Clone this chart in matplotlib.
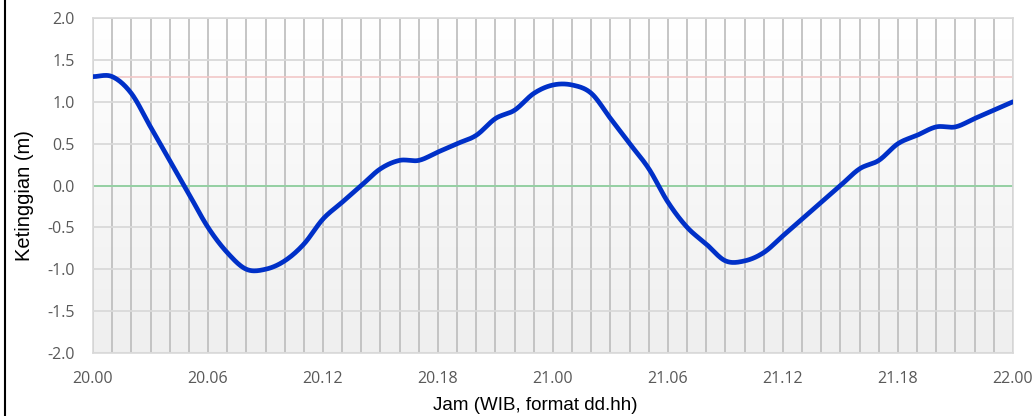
import numpy as np
import matplotlib
matplotlib.use("Agg")
import matplotlib.pyplot as plt
from matplotlib.lines import Line2D

# hourly water level from 20.00 to 22.00 (49 points)
hours = list(range(49))
levels = [1.3, 1.3, 1.1, 0.7, 0.3, -0.1, -0.5, -0.8, -1.0, -1.0, -0.9, -0.7,
          -0.4, -0.2, 0.0, 0.2, 0.3, 0.3, 0.4, 0.5, 0.6, 0.8, 0.9, 1.1,
          1.2, 1.2, 1.1, 0.8, 0.5, 0.2, -0.2, -0.5, -0.7, -0.9, -0.9, -0.8,
          -0.6, -0.4, -0.2, 0.0, 0.2, 0.3, 0.5, 0.6, 0.7, 0.7, 0.8, 0.9, 1.0]
tick_pos = [0, 6, 12, 18, 24, 30, 36, 42, 48]
tick_labels = ["20.00", "20.06", "20.12", "20.18", "21.00", "21.06", "21.12", "21.18", "22.00"]
upper_ref = 1.3
lower_ref = 0.0

def catmull_rom(x, y, n=20):
    x = np.asarray(x, float); y = np.asarray(y, float)
    px = np.concatenate([[2*x[0]-x[1]], x, [2*x[-1]-x[-2]]])
    py = np.concatenate([[2*y[0]-y[1]], y, [2*y[-1]-y[-2]]])
    xs, ys = [], []
    t = np.linspace(0, 1, n, endpoint=False)
    for i in range(1, len(px)-2):
        for arr, out in ((px, xs), (py, ys)):
            p0, p1, p2, p3 = arr[i-1], arr[i], arr[i+1], arr[i+2]
            out.append(0.5*((2*p1) + (-p0+p2)*t + (2*p0-5*p1+4*p2-p3)*t**2 + (-p0+3*p1-3*p2+p3)*t**3))
    xs.append([x[-1]]); ys.append([y[-1]])
    return np.concatenate(xs), np.concatenate(ys)

W, H = 1034, 416
fig = plt.figure(figsize=(W/100, H/100), dpi=100)
ax = fig.add_axes([93/W, 1-353/H, 920/W, 335/H])

# gradient background
grad = np.linspace(0, 1, 256).reshape(-1, 1)
top = np.array([1.0, 1.0, 1.0]); bot = np.array([0.937, 0.937, 0.937])
img = top + (bot - top) * grad[..., None]
ax.imshow(img, extent=[0, 48, -2, 2], aspect='auto', zorder=0, origin='upper')

ax.set_xlim(0, 48)
ax.set_ylim(-2, 2)
for h in hours:
    ax.axvline(h, color='#c0c0c0', lw=1.3, zorder=1)
for v in np.arange(-2, 2.01, 0.5):
    ax.axhline(v, color='#d9d9d9', lw=1.3, zorder=1)
ax.axhline(upper_ref, color='#f2c8c8', lw=1.2, zorder=2)
ax.axhline(lower_ref, color='#8fcf9f', lw=1.3, zorder=2)

sx, sy = catmull_rom(hours, levels)
ax.plot(sx, sy, color='#0030c8', lw=3.4, zorder=3, solid_capstyle='round')

ax.set_xticks(tick_pos)
ax.set_xticklabels(tick_labels)
ax.set_yticks(np.arange(-2, 2.01, 0.5))
ax.set_yticklabels([f"{v:.1f}" for v in np.arange(-2, 2.01, 0.5)])
ax.tick_params(axis='x', length=0, colors='#595959', labelsize=11.5, pad=13)
ax.tick_params(axis='y', length=0, colors='#595959', labelsize=11.5, pad=13)
for lab in ax.get_xticklabels() + ax.get_yticklabels():
    lab.set_family('Open Sans')
for s in ax.spines.values():
    s.set_color('#d9d9d9')
    s.set_linewidth(1.2)

fig.text(535/W, 1-406/H, "Jam (WIB, format dd.hh)", family='Liberation Sans', fontsize=13.5,
         color='black', ha='center', va='center')
fig.text(24/W, 1-196/H, "Ketinggian (m)", family='Liberation Sans', fontsize=14.5,
         color='black', ha='center', va='center', rotation=90)

fig.add_artist(Line2D([5/W, 5/W], [0, 1], transform=fig.transFigure, color='black', lw=1.5))

fig.savefig("out.png", dpi=100)
